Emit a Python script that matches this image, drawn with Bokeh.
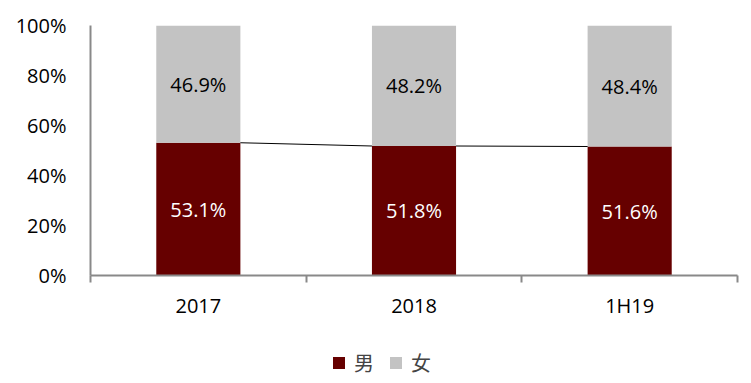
from bokeh.plotting import figure
from bokeh.layouts import column
from bokeh.models import (ColumnDataSource, FixedTicker, NumeralTickFormatter,
                          Range1d, Legend, LegendItem, LabelSet)
from bokeh.core.properties import value
from bokeh.embed import file_html
from bokeh.resources import INLINE

categories = ["2017", "2018", "1H19"]
male = [53.1, 51.8, 51.6]
female = [46.9, 48.2, 48.4]
series_names = ["男", "女"]
colors = ["#660000", "#C3C3C3"]
y_ticks = [0, 20, 40, 60, 80, 100]

FONT = "Open Sans"
BAR_W = 0.39

x = [i + 0.5 for i in range(len(categories))]
m = [v / 100 for v in male]
f = [v / 100 for v in female]
src = ColumnDataSource(dict(
    x=x, m=m, f=f, top_all=[a + b for a, b in zip(m, f)],
    m_mid=[v / 2 for v in m], f_mid=[a + b / 2 for a, b in zip(m, f)],
    m_lab=["%.1f%%" % v for v in male], f_lab=["%.1f%%" % v for v in female],
))

p = figure(width=751, height=335, output_backend="svg", toolbar_location=None,
           x_range=Range1d(0, len(categories)), y_range=Range1d(0, 1),
           min_border_left=90, min_border_right=14, min_border_top=25,
           min_border_bottom=60)
p.outline_line_color = None
p.xgrid.grid_line_color = None
p.ygrid.grid_line_color = None
p.background_fill_color = "white"
p.border_fill_color = "white"

r_m = p.vbar(x="x", bottom=0, top="m", width=BAR_W, source=src,
             fill_color=colors[0], line_color=None)
r_f = p.vbar(x="x", bottom="m", top="top_all", width=BAR_W, source=src,
             fill_color=colors[1], line_color=None)

# series lines connecting male tops
for i in range(len(categories) - 1):
    p.line([x[i] + BAR_W / 2, x[i + 1] - BAR_W / 2], [m[i], m[i + 1]],
           line_color="black", line_width=1)

p.add_layout(LabelSet(x="x", y="m_mid", text="m_lab", source=src,
                      text_align="center", text_baseline="middle",
                      text_color="white", text_font=value(FONT),
                      text_font_size="20px"))
p.add_layout(LabelSet(x="x", y="f_mid", text="f_lab", source=src,
                      text_align="center", text_baseline="middle",
                      text_color="black", text_font=value(FONT),
                      text_font_size="20px"))

# axes
p.yaxis.ticker = FixedTicker(ticks=[t / 100 for t in y_ticks])
p.yaxis.formatter = NumeralTickFormatter(format="0%")
p.yaxis.major_tick_line_color = None
p.yaxis.major_tick_out = 0
p.yaxis.major_tick_in = 0
p.yaxis.minor_tick_line_color = None
p.yaxis.axis_line_color = "#898989"
p.yaxis.axis_line_width = 2
p.yaxis.major_label_standoff = 24
p.yaxis.major_label_text_font = FONT
p.yaxis.major_label_text_font_size = "20px"
p.yaxis.major_label_text_color = "black"

p.xaxis.ticker = FixedTicker(ticks=x, minor_ticks=list(range(len(categories) + 1)))
p.xaxis.major_label_overrides = {xx: c for xx, c in zip(x, categories)}
p.xaxis.major_tick_line_color = None
p.xaxis.major_tick_out = 0
p.xaxis.major_tick_in = 0
p.xaxis.minor_tick_line_color = "#898989"
p.xaxis.minor_tick_line_width = 2
p.xaxis.minor_tick_out = 7
p.xaxis.minor_tick_in = 0
p.xaxis.axis_line_color = "#898989"
p.xaxis.axis_line_width = 2
p.xaxis.major_label_standoff = 9
p.xaxis.major_label_text_font = FONT
p.xaxis.major_label_text_font_size = "20px"
p.xaxis.major_label_text_color = "black"

# legend strip below the chart (swatch renderers sit outside the visible range)
pl = figure(width=751, height=48, output_backend="svg", toolbar_location=None,
            x_range=Range1d(0, 1), y_range=Range1d(0, 1),
            min_border_left=0, min_border_right=0, min_border_top=0,
            min_border_bottom=0)
pl.axis.visible = False
pl.grid.visible = False
pl.outline_line_color = None
pl.border_fill_color = "white"
swatch = ColumnDataSource(dict(x=[-100], t=[-100]))
lm = pl.vbar(x="x", top="t", bottom=-101, width=0.1, source=swatch,
             fill_color=colors[0], line_color=None)
lf = pl.vbar(x="x", top="t", bottom=-101, width=0.1, source=swatch,
             fill_color=colors[1], line_color=None)
legend = Legend(items=[LegendItem(label=series_names[0], renderers=[lm], index=0),
                       LegendItem(label=series_names[1], renderers=[lf], index=0)],
                orientation="horizontal", location=(241, 6),
                glyph_width=15, glyph_height=15, label_standoff=8,
                spacing=14, padding=0, margin=0, label_height=20,
                label_text_font="Noto Sans CJK SC", label_text_font_size="20px",
                background_fill_alpha=0, border_line_color=None)
pl.add_layout(legend, "center")

open("out.html", "w").write(file_html(column(p, pl, spacing=0), INLINE))
